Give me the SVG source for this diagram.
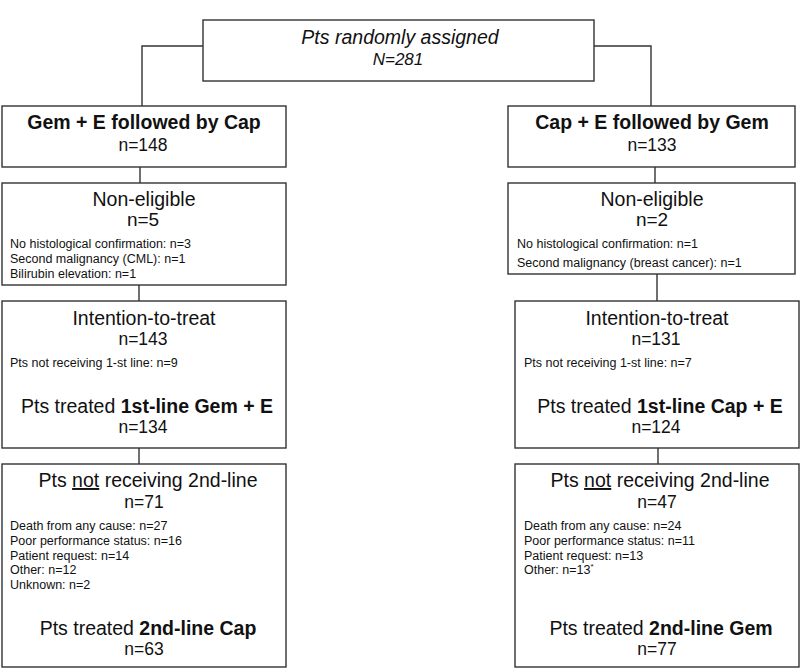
<svg xmlns="http://www.w3.org/2000/svg" width="800" height="668" viewBox="0 0 800 668">
<style>
.box{fill:#fff;stroke:#333;stroke-width:1.4}
.ln{fill:none;stroke:#333;stroke-width:1.4}
text{font-family:"Liberation Sans",Arial,sans-serif;fill:#111}
.h{font-size:19.5px;text-anchor:middle}
.b{font-weight:bold}
.n{font-size:17.5px;text-anchor:middle}
.d{font-size:12.5px}
.it{font-style:italic}
</style>
<rect width="800" height="668" fill="#fff"/>
<g id="connectors">
<polyline class="ln" points="203,46 142,46 142,106"/>
<polyline class="ln" points="594,46 651,46 651,106"/>
<line class="ln" x1="140" y1="167" x2="140" y2="183"/>
<line class="ln" x1="655" y1="167" x2="655" y2="183"/>
<line class="ln" x1="139" y1="285" x2="139" y2="301"/>
<line class="ln" x1="657" y1="274" x2="657" y2="301"/>
<line class="ln" x1="139" y1="448" x2="139" y2="464"/>
<line class="ln" x1="658" y1="448" x2="658" y2="464"/>
</g>
<g id="randomized">
<rect class="box" x="203" y="20" width="391" height="61"/>
<text class="h it" x="400" y="44">Pts randomly assigned</text>
<text class="it" x="398" y="65" style="font-size:17px;text-anchor:middle">N=281</text>
</g>
<g id="armA">
<rect class="box" x="2" y="106" width="284" height="61"/>
<text class="h b" x="144" y="129">Gem + E followed by Cap</text>
<text class="n" x="143" y="151">n=148</text>
</g>
<g id="armB">
<rect class="box" x="508" y="106" width="287" height="61"/>
<text class="h b" x="652" y="129">Cap + E followed by Gem</text>
<text class="n" x="652" y="151">n=133</text>
</g>
<g id="nonEligibleA">
<rect class="box" x="2" y="183" width="284" height="102"/>
<text class="h" x="144" y="206">Non-eligible</text>
<text class="h" x="143" y="226" style="font-size:19px">n=5</text>
<text class="d" x="10" y="248">No histological confirmation: n=3</text>
<text class="d" x="10" y="263">Second malignancy (CML): n=1</text>
<text class="d" x="10" y="278">Bilirubin elevation: n=1</text>
</g>
<g id="nonEligibleB">
<rect class="box" x="508" y="183" width="287" height="91"/>
<text class="h" x="652" y="206">Non-eligible</text>
<text class="h" x="652" y="226" style="font-size:19px">n=2</text>
<text class="d" x="517" y="248">No histological confirmation: n=1</text>
<text class="d" x="517" y="267">Second malignancy (breast cancer): n=1</text>
</g>
<g id="ittA">
<rect class="box" x="2" y="301" width="284" height="147"/>
<text class="h" x="144" y="325">Intention-to-treat</text>
<text class="n" x="143" y="345">n=143</text>
<text class="d" x="10" y="367">Pts not receiving 1-st line: n=9</text>
<text class="h" x="147" y="413">Pts treated <tspan class="b">1st-line Gem + E</tspan></text>
<text class="n" x="143" y="433">n=134</text>
</g>
<g id="ittB">
<rect class="box" x="515" y="301" width="284" height="147"/>
<text class="h" x="657" y="325">Intention-to-treat</text>
<text class="n" x="656" y="345">n=131</text>
<text class="d" x="524" y="367">Pts not receiving 1-st line: n=7</text>
<text class="h" x="660" y="413">Pts treated <tspan class="b">1st-line Cap + E</tspan></text>
<text class="n" x="656" y="433">n=124</text>
</g>
<g id="secondA">
<rect class="box" x="2" y="464" width="284" height="203"/>
<text class="h" x="148" y="487">Pts <tspan text-decoration="underline">not</tspan> receiving 2nd-line</text>
<text class="n" x="144" y="508">n=71</text>
<text class="d" x="10" y="530">Death from any cause: n=27</text>
<text class="d" x="10" y="545">Poor performance status: n=16</text>
<text class="d" x="10" y="560">Patient request: n=14</text>
<text class="d" x="10" y="574">Other: n=12</text>
<text class="d" x="10" y="589">Unknown: n=2</text>
<text class="h" x="148" y="635">Pts treated <tspan class="b">2nd-line Cap</tspan></text>
<text class="n" x="144" y="655">n=63</text>
</g>
<g id="secondB">
<rect class="box" x="515" y="464" width="284" height="203"/>
<text class="h" x="660" y="487">Pts <tspan text-decoration="underline">not</tspan> receiving 2nd-line</text>
<text class="n" x="657" y="508">n=47</text>
<text class="d" x="524" y="530">Death from any cause: n=24</text>
<text class="d" x="524" y="545">Poor performance status: n=11</text>
<text class="d" x="524" y="560">Patient request: n=13</text>
<text class="d" x="524" y="574">Other: n=13<tspan dy="-5" style="font-size:8px">*</tspan></text>
<text class="h" x="661" y="635">Pts treated <tspan class="b">2nd-line Gem</tspan></text>
<text class="n" x="657" y="655">n=77</text>
</g>
</svg>
